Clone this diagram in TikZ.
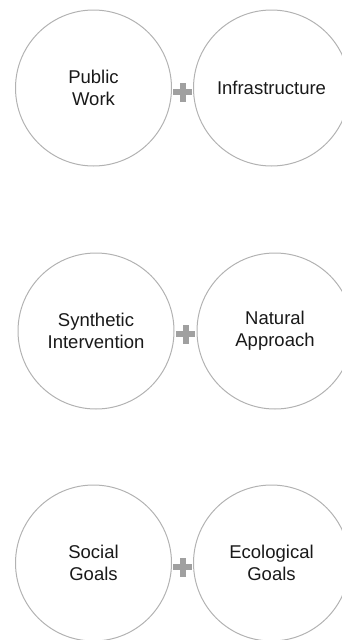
\documentclass[tikz,border=0pt]{standalone}
\usepackage{fontspec}
\setmainfont{Liberation Sans}
\usetikzlibrary{positioning,calc}
\definecolor{ringgray}{RGB}{178,178,178}
\definecolor{plusgray}{RGB}{160,160,160}
\tikzset{
  idea/.style={draw=ringgray,line width=1pt,circle,minimum size=156pt,inner sep=0pt,outer sep=0pt,
    align=center,font=\fontsize{18.5}{22}\selectfont,text=black!90},
  plusmark/.style={minimum size=19pt,inner sep=0pt,path picture={
    \fill[plusgray] ($(path picture bounding box.center)+(-9.5pt,-3pt)$) rectangle ($(path picture bounding box.center)+(9.5pt,3pt)$);
    \fill[plusgray] ($(path picture bounding box.center)+(-3pt,-9.5pt)$) rectangle ($(path picture bounding box.center)+(3pt,9.5pt)$);}}
}
\begin{document}
\begin{tikzpicture}[x=1pt,y=-1pt]

        \clip (0,0) rectangle (342,640);

        % nodes
        \node [idea] (pub) at (93.5,88) {Public\\Work};
        \node [idea,right=22pt of pub] (infra) {Infrastructure};

        \node [idea] (synth) at (96,331) {Synthetic\\Intervention};
        \node [idea,right=23pt of synth] (nat) {Natural\\Approach};

        \node [idea] (soc) at (93.5,563) {Social\\Goals};
        \node [idea,right=22pt of soc] (eco) {Ecological\\Goals};

        % plus signs
        \node [plusmark,yshift=-4pt] (plusA) at ($(pub)!0.5!(infra)$) {};
        \node [plusmark,yshift=-3pt] (plusB) at ($(synth)!0.5!(nat)$) {};
        \node [plusmark,yshift=-4pt] (plusC) at ($(soc)!0.5!(eco)$) {};

    \end{tikzpicture}
\end{document}
